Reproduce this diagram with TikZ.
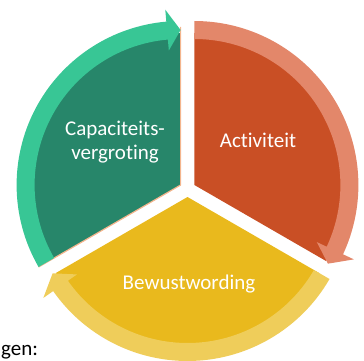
\documentclass[tikz,border=0pt]{standalone}
\usepackage{fontspec}
\setmainfont[Ligatures=NoCommon]{Carlito}
\usepackage{tikz}
\usetikzlibrary{calc}

\definecolor{grdark}{RGB}{39,134,106}
\definecolor{grlight}{RGB}{56,198,149}
\definecolor{ordark}{RGB}{201,79,37}
\definecolor{orlight}{RGB}{227,135,106}
\definecolor{yedark}{RGB}{233,185,29}
\definecolor{yelight}{RGB}{239,205,90}
\definecolor{peach}{RGB}{244,181,141}

\tikzset{
  seglabel/.style={text=white,font=\fontsize{21}{24.5}\selectfont,align=center,inner sep=0pt},
}

\begin{document}
\begin{tikzpicture}[x=1pt,y=1pt]
    \useasboundingbox (0,0) rectangle (364,-361);
    \coordinate (G) at (180.6,-185);
    \coordinate (O) at (194.4,-185);
    \coordinate (Y) at (187.5,-197);
    % dark segments
    \fill[grdark] (G) -- ++(90:152) arc[start angle=90,end angle=210,radius=152pt] -- cycle;
    \fill[ordark] (O) -- ++(90:152) arc[start angle=90,end angle=-30,radius=152pt] -- cycle;
    \fill[yedark] (Y) -- ++(-30:152) arc[start angle=-30,end angle=-150,radius=152pt] -- cycle;
    \draw[peach,line width=1.2pt] ($(G)+(90:158)$) -- (G) -- ($(G)+(210:164)$);
    % arrow bands
    \begin{scope}[shift={(G)}]
      \fill[grlight] (210:146) -- (210:164) arc[start angle=210,end angle=95,radius=164pt]
        -- (95:176) -- (90:155) -- (95:135) -- (95:146)
        arc[start angle=95,end angle=210,radius=146pt] -- cycle;
    \end{scope}
    \begin{scope}[shift={(O)}]
      \fill[orlight] (90:146) -- (90:164) arc[start angle=90,end angle=-25,radius=164pt]
        -- (-25:176) -- (-30.5:155) -- (-25:135) -- (-25:146)
        arc[start angle=-25,end angle=90,radius=146pt] -- cycle;
    \end{scope}
    \begin{scope}[shift={(Y)}]
      \fill[yelight] (-30:146) -- (-30:164) arc[start angle=-30,end angle=-145,radius=164pt]
        -- (-145:176) -- (-150.5:155) -- (-145:135) -- (-145:146)
        arc[start angle=-145,end angle=-30,radius=146pt] -- cycle;
    \end{scope}
    \node[seglabel] (cap) at (115,-142) {Capaciteits-\\vergroting};
    \node[seglabel,anchor=base] (act) at (258,-147) {Activiteit};
    \node[seglabel,anchor=base] (bew) at (189,-289) {Bewustwording};
    \node[anchor=base west,inner sep=0pt,font=\fontsize{21}{24}\selectfont] (gen) at (1,-355) {gen:};
\end{tikzpicture}
\end{document}
